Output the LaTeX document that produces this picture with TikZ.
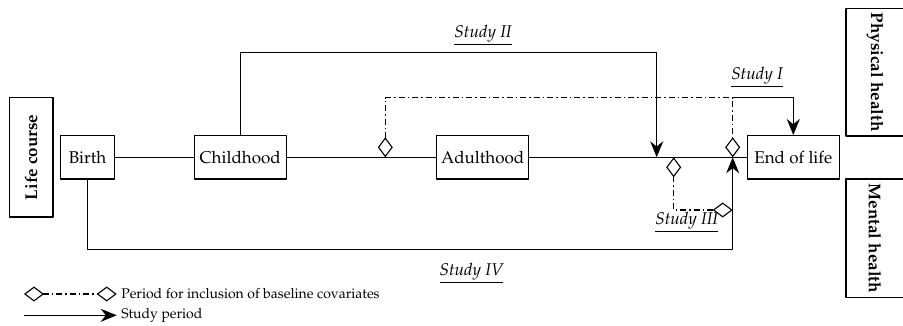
\documentclass[tikz,border=0pt]{standalone}
\usepackage[T1]{fontenc}
\usepackage{mathpazo}
\usetikzlibrary{arrows.meta}
\begin{document}
\begin{tikzpicture}[x=1pt,y=-1pt,line width=1.25pt,line join=round,
	font=\fontsize{17}{20}\selectfont,
	stage/.style={draw,minimum width=92pt,minimum height=43.3pt,inner sep=2pt},
	side/.style={draw,font=\fontsize{17}{20}\selectfont\bfseries,inner sep=2pt},
	base/.style={dash pattern=on 6pt off 3pt on 1.5pt off 3pt,
		{Diamond[length=20pt,width=15pt,fill=white,line width=1.1pt]}-{Diamond[length=20pt,width=15pt,fill=white,line width=1.1pt]}},
	study/.style={-{Stealth[length=16pt,width=13pt]}},
	lab/.style={font=\fontsize{17}{20}\selectfont\itshape},
	key/.style={font=\fontsize{14}{16}\selectfont,anchor=west,inner sep=4pt}]
	\useasboundingbox (0,0) rectangle (903,326);
	% life course and health boxes
	\node[side,rotate=90,minimum width=119.3pt,minimum height=43.7pt] (life) at (31.2,157.3) {Life course};
	\node[side,rotate=-90,minimum width=127.7pt,minimum height=58pt] (phys) at (875,72.2) {Physical health};
	\node[side,rotate=-90,minimum width=118.7pt,minimum height=58pt] (ment) at (875,238.4) {Mental health};
	% stages
	\node[stage,minimum width=53.6pt] (birth) at (87.5,157.3) {Birth};
	\node[stage] (child) at (240.2,157.3) {Childhood};
	\node[stage] (adult) at (482.7,157.3) {Adulthood};
	\node[stage] (end) at (793.3,157.3) {End of life};
	\draw (birth)--(child)--(adult)--(end);
	% points on the time line
	\coordinate (b1) at (385.3,157.3);
	\coordinate (e1) at (732.7,157.3);
	\coordinate (t1) at (732.7,97.7);
	\coordinate (s2) at (656.7,157.3);
	\coordinate (t2) at (656.7,52.3);
	\coordinate (b3) at (673.7,157.3);
	\coordinate (e3) at (732.7,210);
	\coordinate (c4) at (732.7,249.3);
	% studies
	\draw[study] (child.north)|-(t2)--(s2);
	\draw[base] (b1)|-(t1)--(e1);
	\draw[study] (t1)-|(end.north);
	\draw[base] (b3)|-(e3);
	\draw[study] (birth.south)|-(c4)--(e1);
	\node[lab] (n2) at (483,35) {\underline{Study II}};
	\node[lab] (n1) at (757,77) {\underline{Study I}};
	\node[lab] (n3) at (686.7,222.5) {\underline{Study III}};
	\node[lab] (n4) at (471.5,273) {\underline{Study IV}};
	% legend
	\coordinate (k1) at (24,294);
	\coordinate (k2) at (116.7,294);
	\coordinate (k3) at (24,315.3);
	\coordinate (k4) at (116.7,315.3);
	\draw[base] (k1)--(k2) node[key] (kb) {Period for inclusion of baseline covariates};
	\draw[study] (k3)--(k4) node[key] (ks) {Study period};
\end{tikzpicture}
\end{document}
